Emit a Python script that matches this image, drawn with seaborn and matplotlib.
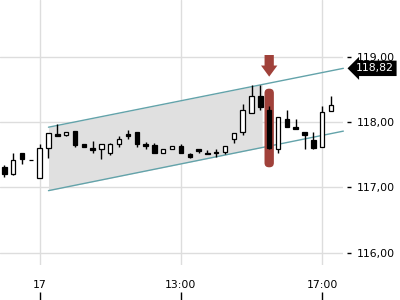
import numpy as np
import pandas as pd
import matplotlib
matplotlib.use("Agg")
import matplotlib.pyplot as plt
from matplotlib.patches import FancyBboxPatch, FancyArrow
import seaborn as sns

# ---- data (15-minute candles, 08:00 .. 17:15) ----
times = [t.strftime("%H:%M") for t in pd.date_range("2024-01-17 08:00", periods=38, freq="15min")]
opens = [117.31, 117.21, 117.53, 117.42, 117.14, 117.60, 117.81, 117.80, 117.86, 117.66,
         117.60, 117.58, 117.53, 117.66, 117.81, 117.84, 117.67, 117.65, 117.52, 117.58,
         117.64, 117.51, 117.58, 117.53, 117.54, 117.54, 117.74, 117.84, 118.13, 118.40,
         118.19, 117.59, 118.04, 117.93, 117.85, 117.73, 117.61, 118.17]
closes = [117.21, 117.42, 117.44, 117.42, 117.60, 117.83, 117.79, 117.85, 117.65, 117.61,
          117.57, 117.66, 117.66, 117.74, 117.79, 117.67, 117.64, 117.53, 117.59, 117.64,
          117.52, 117.47, 117.56, 117.51, 117.52, 117.64, 117.83, 118.19, 118.40, 118.23,
          117.60, 118.08, 117.92, 117.90, 117.80, 117.60, 118.16, 118.26]
highs = [117.34, 117.53, 117.53, 117.42, 117.67, 117.83, 117.97, 117.85, 117.86, 117.67,
         117.71, 117.66, 117.68, 117.78, 117.88, 117.84, 117.69, 117.68, 117.59, 117.64,
         117.66, 117.52, 117.58, 117.57, 117.59, 117.64, 117.83, 118.27, 118.57, 118.57,
         118.25, 118.08, 118.19, 118.04, 117.85, 117.85, 118.25, 118.40]
lows = [117.16, 117.19, 117.35, 117.42, 117.14, 117.45, 117.79, 117.78, 117.61, 117.61,
        117.53, 117.43, 117.49, 117.61, 117.74, 117.61, 117.59, 117.53, 117.52, 117.58,
        117.52, 117.45, 117.52, 117.51, 117.47, 117.51, 117.68, 117.80, 118.13, 118.19,
        117.59, 117.52, 117.92, 117.90, 117.58, 117.58, 117.61, 118.17]

# trend channel anchors (candle index, value)
channel_x = [5, 38.4]
channel_upper = [117.92, 118.82]
channel_lower = [116.95, 117.86]
fill_end = 29.2
signal_idx = 30          # highlighted candle (15:30)
last_label = "118,82"

xtick_pos = [4, 20, 36]
xtick_labels = ["17", "13:00", "17:00"]
ytick_vals = [116, 117, 118, 119]

# ---- style ----
sns.set_theme(style="white")
plt.rcParams["font.family"] = ["DejaVu Sans"]

fig = plt.figure(figsize=(4, 3), dpi=100)
ax = fig.add_axes([0, 35 / 300, 343 / 400, 265 / 300])
ax.set_xlim(-0.49, 38.36)
ax.set_ylim(115.813, 119.865)

# grid
for v in ytick_vals:
    ax.axhline(v, color="#dddddd", lw=1, zorder=0)
for x in xtick_pos:
    ax.axvline(x, color="#dddddd", lw=1, zorder=0)

# channel fill + lines
def chan(vals, x):
    return vals[0] + (vals[1] - vals[0]) * (x - channel_x[0]) / (channel_x[1] - channel_x[0])

fx = np.array([channel_x[0], fill_end])
ax.fill_between(fx, chan(channel_lower, fx), chan(channel_upper, fx),
                color="#e0e0e0", lw=0, zorder=1)
chan_df = pd.DataFrame({
    "x": channel_x * 2,
    "y": channel_upper + channel_lower,
    "line": ["upper", "upper", "lower", "lower"],
})
sns.lineplot(data=chan_df, x="x", y="y", units="line", estimator=None,
             color="#63a3aa", lw=1, ax=ax, zorder=2, legend=False)
for l in ax.lines[-2:]:
    l.set_clip_on(False)

# highlight of signal candle
ax.add_patch(FancyBboxPatch((signal_idx - 0.53, 117.307), 1.06, 118.509 - 117.307,
                            boxstyle="round,pad=0,rounding_size=0.5",
                            mutation_aspect=8.83 / 65.4,
                            fc="#a0413a", ec="none", zorder=3))
ax.add_patch(FancyArrow(signal_idx, 119.024, 0, -(119.024 - 118.693), width=1.05,
                        head_width=1.85, head_length=0.17, length_includes_head=True,
                        fc="#a0413a", ec="none", zorder=3))

# candles
x = np.arange(len(times))
o = np.array(opens); c = np.array(closes)
ax.vlines(x, lows, highs, color="black", lw=1, zorder=4)
face = ["white" if cc > oo else "black" for oo, cc in zip(o, c)]
ax.bar(x, np.abs(c - o), bottom=np.minimum(o, c), width=0.5, color=face,
       edgecolor="black", lw=0.9, zorder=5)

# axes styling
for s in ax.spines.values():
    s.set_visible(False)
ax.yaxis.tick_right()
ax.spines["right"].set_position(("outward", 3))
ax.set_yticks(ytick_vals)
ax.set_yticklabels([f"{v:.2f}".replace(".", ",") for v in ytick_vals])
ax.tick_params(axis="y", right=True, length=2.6, width=1, color="black", pad=4,
               labelsize=7.8, labelcolor="black")
ax.set_xticks(xtick_pos)
ax.set_xticklabels(xtick_labels)
ax.tick_params(axis="x", bottom=False, length=0, pad=11, labelsize=7.8, labelcolor="black")
ax.vlines(xtick_pos, -0.102, -0.132, transform=ax.get_xaxis_transform(),
          color="black", lw=1, clip_on=False)
ax.set_xlabel(""); ax.set_ylabel("")

# last value label
ax.text(1.0 + 13 / 343, channel_upper[1], last_label, transform=ax.get_yaxis_transform(),
        ha="left", va="center", color="white", fontsize=7.8, clip_on=False, zorder=6,
        bbox=dict(boxstyle="larrow,pad=0.25", fc="black", ec="none"))

fig.savefig("out.png", dpi=100)
